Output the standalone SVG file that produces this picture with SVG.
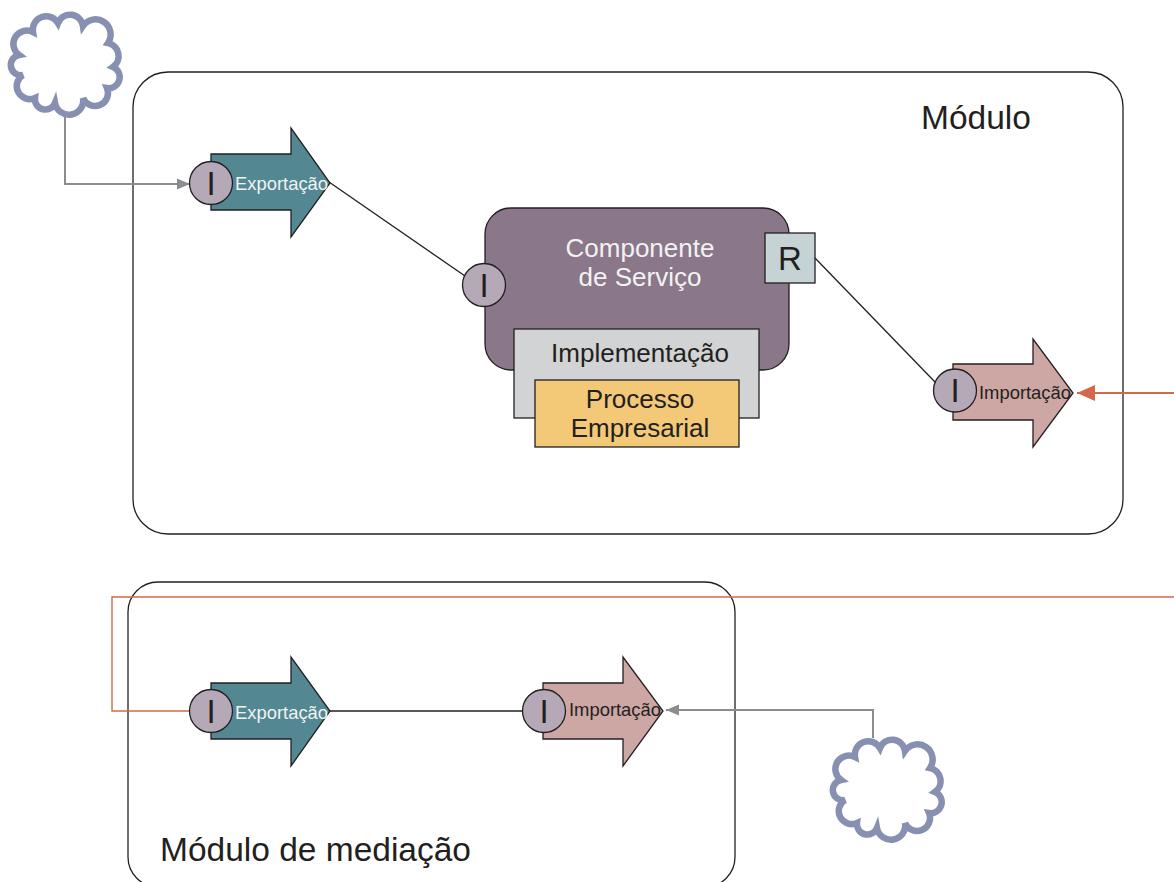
<svg xmlns="http://www.w3.org/2000/svg" width="1174" height="882" viewBox="0 0 1174 882">
<style>
text{font-family:"Liberation Sans",Arial,sans-serif}
.mod{fill:none;stroke:#231f20;stroke-width:1.3}
.cloud{fill:#fff;stroke:#8790b0;stroke-width:6.5}
.exp{fill:#538892;stroke:#231f20;stroke-width:1.3}
.imp{fill:#cda7a3;stroke:#231f20;stroke-width:1.3}
.port{fill:#b5a9b8;stroke:#231f20;stroke-width:1.3}
.pl{font-size:33px;fill:#231f20;text-anchor:middle}
.lbl{font-size:18.4px}
.t26{font-size:26px;text-anchor:middle;fill:#231f20}
.t33{font-size:33.5px;fill:#231f20}
.blk{fill:none;stroke:#231f20;stroke-width:1.3}
.gry{fill:none;stroke:#8a8c8e;stroke-width:2}
.org{fill:none;stroke:#d2694a;stroke-width:1.4}
</style>
<defs>
<marker id="ag" markerUnits="userSpaceOnUse" markerWidth="14" markerHeight="14" refX="13" refY="7" orient="auto"><path d="M0 1.500L13 7L0 12.500Z" fill="#8a8c8e"/></marker>
<marker id="ao" markerUnits="userSpaceOnUse" markerWidth="19" markerHeight="18" refX="18" refY="9" orient="auto"><path d="M0 1L18 9L0 17Z" fill="#d2694a"/></marker>
<path id="cl" d="M33 32A13.500 13.500 0 0 1 58 23A13 13 0 0 1 83 26A15 15 0 0 1 108 43A13.400 13.400 0 0 1 113 67A11 11 0 0 1 107 88A13 13 0 0 1 83 98A14.200 14.200 0 0 1 55 103A10.400 10.400 0 0 1 35 98A13 13 0 0 1 23 75A10 10 0 0 1 19 55A13.500 13.500 0 0 1 33 32Z"/>
</defs>
<g id="modulo"><rect class="mod" x="133" y="72" width="990" height="462" rx="35"/><text class="t33" x="921" y="129">Módulo</text></g>
<g id="modulo-mediacao"><rect class="mod" x="128" y="582" width="607" height="305" rx="30"/><text class="t33" x="160" y="861">Módulo de mediação</text></g>
<g id="connectors">
<path class="gry" d="M65 117V184H190" marker-end="url(#ag)"/>
<path class="blk" d="M329 182L465 276"/>
<path class="blk" d="M815 258L935 382"/>
<path class="gry" d="M1174 393H1077" style="stroke:#d2694a" marker-end="url(#ao)"/>
<path class="org" d="M1174 597H112V711H190"/>
<path class="blk" d="M330 711H523"/>
<path class="gry" d="M873 738V710H666" marker-end="url(#ag)"/>
</g>
<g id="nuvem-1"><use href="#cl" class="cloud"/></g>
<g id="nuvem-2"><use href="#cl" class="cloud" x="822" y="725"/></g>
<g id="exportacao-1"><path class="exp" d="M211 154H291V128L330 183L291 237V210H211Z"/><circle class="port" cx="211" cy="183" r="21.5"/><text class="pl" x="211" y="195">I</text><text class="lbl" x="235" y="190" fill="#f1f2f2">Exportação</text></g>
<g id="componente">
<rect x="485" y="208" width="304" height="162" rx="26" fill="#8a7789" stroke="#231f20" stroke-width="1.3"/>
<text class="t26" x="640" y="257" style="fill:#f1f2f2">Componente</text><text class="t26" x="640" y="286" style="fill:#f1f2f2">de Serviço</text>
<circle class="port" cx="484" cy="285" r="21.5"/><text class="pl" x="484" y="297">I</text>
<rect x="765" y="233" width="50" height="50" fill="#c5d3d5" stroke="#231f20" stroke-width="1.3"/><text class="pl" x="790" y="270">R</text>
</g>
<g id="implementacao"><rect x="514" y="329" width="245" height="89" fill="#d1d3d4" stroke="#231f20" stroke-width="1.3"/><text class="t26" x="640" y="362">Implementação</text></g>
<g id="processo"><rect x="535" y="380" width="204" height="67" fill="#f3c877" stroke="#231f20" stroke-width="1.3"/><text class="t26" x="640" y="408">Processo</text><text class="t26" x="640" y="437">Empresarial</text></g>
<g id="importacao-1"><path class="imp" d="M953 364H1033V339L1073 393L1033 447V420H953Z"/><circle class="port" cx="955" cy="390.500" r="21.5"/><text class="pl" x="955" y="402">I</text><text class="lbl" x="979" y="399" fill="#231f20">Importação</text></g>
<g id="exportacao-2"><path class="exp" d="M211 683H291V657L330 711L291 766V739H211Z"/><circle class="port" cx="211" cy="711" r="21.5"/><text class="pl" x="211" y="723">I</text><text class="lbl" x="235" y="719" fill="#f1f2f2">Exportação</text></g>
<g id="importacao-2"><path class="imp" d="M543 683H623V657L663 711L623 766V739H543Z"/><circle class="port" cx="544" cy="711" r="21.5"/><text class="pl" x="544" y="723">I</text><text class="lbl" x="569" y="716" fill="#231f20">Importação</text></g>
</svg>
